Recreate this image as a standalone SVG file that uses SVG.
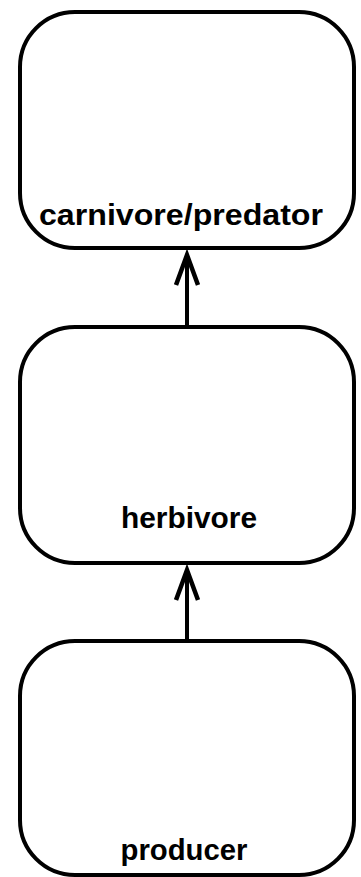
<svg xmlns="http://www.w3.org/2000/svg" width="361" height="877" viewBox="0 0 361 877">
<style>
.box{fill:#fff;stroke:#000;stroke-width:4}
.lbl{font-family:"Liberation Sans",Arial,sans-serif;font-weight:bold;font-size:30px;fill:#000;text-anchor:middle}
.edge{stroke:#000;stroke-width:4;fill:none}
.head{stroke:#000;stroke-width:4.5;fill:none;stroke-linejoin:miter;stroke-miterlimit:10}
</style>
<rect width="361" height="877" fill="#fff"/>
<g id="carnivore">
<rect class="box" x="20" y="12" width="334" height="236" rx="55"/>
<text class="lbl" x="181" y="225" textLength="284" lengthAdjust="spacingAndGlyphs">carnivore/predator</text>
</g>
<g id="herbivore">
<rect class="box" x="20" y="327" width="334" height="236" rx="55"/>
<text class="lbl" x="189" y="528" textLength="136" lengthAdjust="spacingAndGlyphs">herbivore</text>
</g>
<g id="producer">
<rect class="box" x="20" y="641" width="334" height="234" rx="55"/>
<text class="lbl" x="184" y="860" textLength="127" lengthAdjust="spacingAndGlyphs">producer</text>
</g>
<g id="connectors">
<line class="edge" x1="187" y1="325" x2="187" y2="258"/>
<polyline class="head" points="176,285 187,255 198,285"/>
<line class="edge" x1="187" y1="639" x2="187" y2="573"/>
<polyline class="head" points="176,600 187,570 198,600"/>
</g>
</svg>
